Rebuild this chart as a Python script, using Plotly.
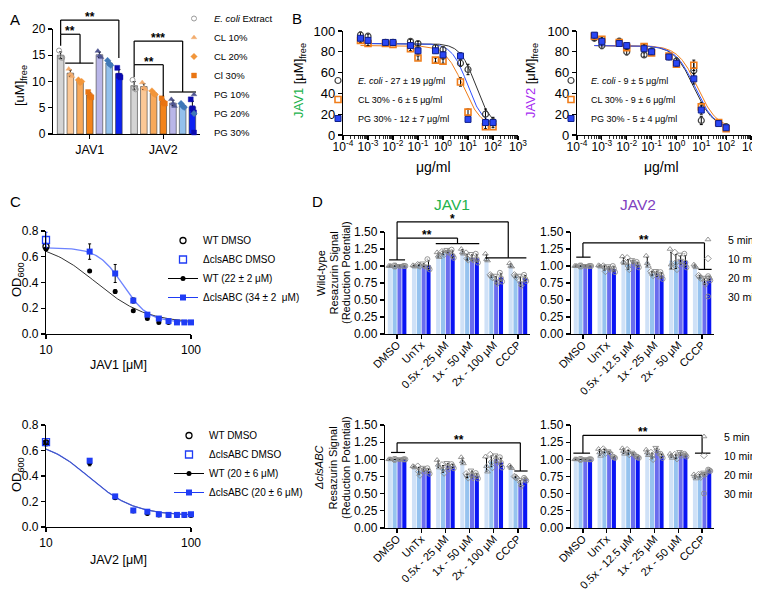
import numpy as np
import plotly.graph_objects as go

W, H = 760, 592
FONT = "Liberation Sans, Arial, Helvetica, sans-serif"

# ======================= DATA =======================
# ---- Panel A: free peptide [uM], replicate values ----
A_GROUPS = ["JAV1", "JAV2"]
A_SERIES = ["<i>E. coli</i> Extract", "CL 10%", "CL 20%", "Cl 30%", "PG 10%", "PG 20%", "PG 30%"]
A_JAV1 = [[15.9, 14.6, 14.5], [12.4, 11.4, 11.0], [10.3, 9.8, 10.0], [8.0, 7.3, 7.0],
          [15.8, 14.9, 14.6], [14.0, 13.4, 13.1], [12.6, 11.1, 10.8]]
A_JAV2 = [[10.3, 8.8, 8.5], [9.8, 8.8, 8.5], [8.2, 7.7, 7.5], [6.8, 6.0, 5.8],
          [6.6, 5.8, 5.3], [5.8, 5.3, 5.1], [6.6, 4.9, 4.1]]
A_YTICKS = [0, 5, 10, 15, 20]

# ---- Panel B: free peptide vs lipid concentration ----
B_CONC = [0.0005, 0.001, 0.005, 0.01, 0.05, 0.1, 0.5, 1, 5, 10, 50, 100]
B_TICK_EXP = [-4, -3, -2, -1, 0, 1, 2, 3]
B_YTICKS = [0, 20, 40, 60, 80, 100]
B1_NAMES = ["<i>E. coli</i> - 27 ± 19 μg/ml", "CL 30% - 6 ± 5 μg/ml", "PG 30% - 12 ± 7 μg/ml"]
B2_NAMES = ["<i>E. coli</i> - 9 ± 5 μg/ml", "CL 30% - 9 ± 6 μg/ml", "PG 30% - 5 ± 4 μg/ml"]
B1_ECOLI = [96, 95, 89, 89, 90, 88, 84, 82, 69, 63, 20, 13]
B1_ECOLI_ERR = [3, 2, 2, 2, 2, 2, 3, 3, 3, 5, 5, 4]
B1_CL30 = [91, 88, 88, 87, 83, 74, 72, 71, 51, 22, 8, 8]
B1_CL30_ERR = [2, 2, 1, 1, 2, 2, 2, 2, 4, 3, 2, 1]
B1_PG30 = [93, 91, 89, 89, 86, 81, 81, 77, 76, 15, 12, 12]
B1_PG30_ERR = [2, 2, 1, 1, 2, 3, 2, 3, 3, 2, 2, 2]
B2_ECOLI = [93, 86, 90, 80, 77, 81, 75, 71, 62, 14, 12, 8]
B2_ECOLI_ERR = [2, 3, 3, 3, 2, 2, 2, 3, 8, 4, 2, 1]
B2_CL30 = [95, 92, 89, 84, 85, 79, 76, 68, 67, 27, 12, 6]
B2_CL30_ERR = [2, 2, 2, 2, 2, 2, 2, 2, 5, 4, 2, 1]
B2_PG30 = [96, 90, 88, 86, 83, 80, 75, 69, 54, 24, 11, 7]
B2_PG30_ERR = [2, 2, 2, 2, 2, 2, 2, 2, 5, 4, 2, 1]
# fitted 4-parameter logistic curves: (top, bottom, EC50, Hill)
B1_FITS = [(88, 8, 20, 1.4), (86, 7, 6.5, 1.2), (88, 9, 9.5, 1.4)]
B2_FITS = [(86, 6, 5, 1.1), (86, 6, 7, 1.1), (86, 6, 5.5, 1.1)]

# ---- Panel C: OD600 vs peptide ----
C_CONC = [10, 20, 30, 40, 50, 60, 70, 80, 90, 100]
C_DMSO_X = [10]
C1_NAMES = ["WT DMSO", "ΔclsABC DMSO", "WT (22 ± 2 μM)", "ΔclsABC (34 ± 2  μM)"]
C2_NAMES = ["WT DMSO", "ΔclsABC DMSO", "WT (20 ± 6 μM)", "ΔclsABC (20 ± 6 μM)"]
C1_WT_DMSO = [0.68]
C1_DCLS_DMSO = [0.73]
C1_DCLS_DMSO_ERR = [0.06]
C1_WT = [0.66, 0.49, 0.33, 0.18, 0.12, 0.09, 0.09, 0.09, 0.09, 0.09]
C1_WT_ERR = [0.01, 0.005, 0.015, 0.01, 0.005, 0.005, 0.003, 0.003, 0.003, 0.003]
C1_DCLS = [0.64, 0.47, 0.26, 0.15, 0.12, 0.10, 0.09, 0.09, 0.09]
C1_DCLS_ERR = [0.06, 0.07, 0.02, 0.01, 0.01, 0.01, 0.005, 0.005, 0.005]
C2_WT_DMSO = [0.66]
C2_DCLS_DMSO = [0.665]
C2_DCLS_DMSO_ERR = [0.005]
C2_WT = [0.66, 0.50, 0.23, 0.125, 0.105, 0.095, 0.09, 0.09, 0.09, 0.09]
C2_WT_ERR = [0.005, 0.02, 0.01, 0.008, 0.01, 0.005, 0.005, 0.003, 0.003, 0.003]
C2_DCLS = [0.52, 0.24, 0.13, 0.12, 0.10, 0.095, 0.095, 0.095, 0.10]
C2_DCLS_ERR = [0.015, 0.01, 0.005, 0.01, 0.005, 0.005, 0.003, 0.003, 0.003]
C1_FITS = [(0.72, 0.085, 22, 2.5), (0.67, 0.09, 34, 5.0)]
C2_FITS = [(0.686, 0.09, 20, 2.8), (0.686, 0.09, 20, 2.8)]
C_YTICKS = [0.0, 0.2, 0.4, 0.6, 0.8]

# ---- Panel D: resazurin signal, points[time][group] = replicates ----
D_TIMES = ["5 min", "10 min", "20 min", "30 min"]
D_LABELS_JAV1 = ["DMSO", "UnTx", "0.5x - 25 μM", "1x - 50 μM", "2x - 100 μM", "CCCP"]
D_LABELS_JAV2 = ["DMSO", "UnTx", "0.5x - 12.5 μM", "1x - 25 μM", "2x - 50 μM", "CCCP"]
D_YTICKS = [0, 0.25, 0.5, 0.75, 1.0, 1.25, 1.5]
D_WT_JAV1 = [
    [[1, 1, 1], [1.01, 1.0, 0.99], [1.2, 1.15, 1.13], [1.25, 1.2, 1.18], [1.18, 1.1, 1.08], [1.04, 1.0, 0.99]],
    [[1, 1, 1], [1.02, 1.01, 1.0], [1.21, 1.19, 1.17], [1.19, 1.11, 1.09], [0.87, 0.85, 0.83], [0.87, 0.85, 0.83]],
    [[1, 1, 1], [1.04, 1.0, 0.99], [1.24, 1.21, 1.19], [1.18, 1.1, 1.08], [0.86, 0.78, 0.73], [0.86, 0.75, 0.7]],
    [[1, 1, 1], [1.1, 0.98, 0.95], [1.24, 1.15, 1.12], [1.18, 1.1, 1.05], [0.9, 0.82, 0.77], [0.87, 0.81, 0.78]],
]
D_WT_JAV2 = [
    [[1, 1, 1], [1.01, 1.0, 0.99], [1.14, 1.06, 1.04], [1.15, 1.04, 1.0], [1.25, 1.02, 0.97], [1.02, 1.0, 0.98]],
    [[1, 1, 1], [1.0, 0.98, 0.92], [1.12, 1.0, 0.95], [0.92, 0.89, 0.86], [1.2, 1.05, 0.95], [0.86, 0.84, 0.82]],
    [[1, 1, 1], [1.0, 0.97, 0.94], [1.09, 1.06, 1.03], [0.93, 0.89, 0.84], [1.17, 1.08, 1.02], [0.83, 0.77, 0.72]],
    [[1, 1, 1], [1.0, 0.96, 0.91], [1.06, 1.02, 0.98], [0.91, 0.86, 0.81], [1.18, 1.05, 0.98], [0.85, 0.82, 0.79]],
]
D_KO_JAV1 = [
    [[1, 1, 1], [0.9, 0.89, 0.88], [0.99, 0.92, 0.88], [1.03, 0.97, 0.94], [1.04, 0.9, 0.82], [0.91, 0.89, 0.87]],
    [[1, 1, 1], [0.9, 0.82, 0.77], [0.92, 0.86, 0.8], [0.79, 0.76, 0.73], [1.07, 0.96, 0.88], [0.75, 0.74, 0.73]],
    [[1, 1, 1], [0.88, 0.85, 0.82], [0.95, 0.9, 0.85], [0.84, 0.78, 0.72], [1.06, 1.0, 0.94], [0.7, 0.65, 0.6]],
    [[1, 1, 1], [0.87, 0.83, 0.79], [0.93, 0.9, 0.87], [0.8, 0.76, 0.72], [1.03, 0.95, 0.88], [0.73, 0.71, 0.69]],
]
D_KO_JAV2 = [
    [[1, 1, 1], [1.15, 1.1, 1.05], [1.16, 1.12, 1.08], [1.14, 1.1, 1.06], [1.08, 1.05, 1.02], [0.78, 0.75, 0.72]],
    [[1, 1, 1], [1.15, 1.12, 1.09], [1.14, 1.1, 1.07], [1.1, 1.05, 1.0], [1.07, 1.04, 1.01], [0.78, 0.76, 0.74]],
    [[1, 1, 1], [1.12, 1.1, 1.08], [1.1, 1.08, 1.06], [1.17, 1.13, 1.09], [1.11, 1.08, 1.05], [0.81, 0.79, 0.77]],
    [[1, 1, 1], [1.04, 1.03, 1.02], [1.04, 1.03, 1.02], [1.08, 1.05, 1.02], [1.08, 1.06, 1.04], [0.85, 0.84, 0.83]],
]

# ======================= STYLE / LAYOUT =======================
A_BAR_COLORS = ["#d4d4d4", "#fbc896", "#f8a95a", "#f38318", "#b9b6e8", "#93c0ec", "#0c22f2"]
A_PT_SYMBOLS = ["circle-open", "triangle-up", "diamond", "square", "triangle-up", "diamond", "square"]
A_PT_COLORS = ["#9a9a9a", "#f2ab6c", "#f2963a", "#e97512", "#4f5590", "#3f78b8", "#0a0ab0"]
A_SLOT, A_BW = 0.132, 0.09
A_JIT = [-0.022, 0.0, 0.022]

B_LINE_COLORS = ["#333333", "#f07d1a", "#2f50ff"]
D_BAR_COLORS = ["#cfe1f7", "#96c3ef", "#6a6cee", "#0a14f4"]
D_PT_SYMBOLS = ["triangle-up-open", "diamond-open", "triangle-down-open", "circle-open-dot"]
D_SLOT, D_BW = 0.2, 0.17
D_JIT = [-0.045, 0.0, 0.045]
GREEN, PURPLE_B, PURPLE_D = "#22b24c", "#a62cf0", "#7f3fc0"

# pixel boxes of each subplot: x (left,right), y (top,bottom)
AXES = {
    1: dict(xpx=(45, 192), ypx=(21, 126), xr=[-0.5, 1.5], yr=[0, 20], xlog=False),
    2: dict(xpx=(335, 510), ypx=(23, 127), xr=[-4, 3], yr=[0, 100], xlog=True),
    3: dict(xpx=(569, 743), ypx=(23, 127), xr=[-4, 3], yr=[0, 100], xlog=True),
    4: dict(xpx=(38, 183), ypx=(223, 326), xr=[1, 2], yr=[0, 0.8], xlog=True),
    5: dict(xpx=(38, 183), ypx=(417, 519), xr=[1, 2], yr=[0, 0.8], xlog=True),
    6: dict(xpx=(377, 522), ypx=(224, 326), xr=[-0.5, 5.5], yr=[0, 1.5], xlog=False),
    7: dict(xpx=(563, 706), ypx=(224, 326), xr=[-0.5, 5.5], yr=[0, 1.5], xlog=False),
    8: dict(xpx=(377, 522), ypx=(417, 520), xr=[-0.5, 5.5], yr=[0, 1.5], xlog=False),
    9: dict(xpx=(563, 706), ypx=(417, 520), xr=[-0.5, 5.5], yr=[0, 1.5], xlog=False),
}


def xdom(k):
    a = AXES[k]
    return [a["xpx"][0] / W, a["xpx"][1] / W]


def ydom(k):
    a = AXES[k]
    return [1 - a["ypx"][1] / H, 1 - a["ypx"][0] / H]


def to_paper(k, xv, yv):
    a = AXES[k]
    xd, yd = xdom(k), ydom(k)
    xx = np.log10(xv) if a["xlog"] else xv
    px_ = xd[0] + (xx - a["xr"][0]) / (a["xr"][1] - a["xr"][0]) * (xd[1] - xd[0])
    py_ = yd[0] + (yv - a["yr"][0]) / (a["yr"][1] - a["yr"][0]) * (yd[1] - yd[0])
    return float(px_), float(py_)


def ref(k):
    return ("x", "y") if k == 1 else (f"x{k}", f"y{k}")


def four_pl(x, top, bottom, ec50, hill):
    x = np.asarray(x, dtype=float)
    return bottom + (top - bottom) / (1.0 + (x / ec50) ** hill)


fig = go.Figure()
ERR = dict(type="data", color="black", thickness=1, width=1.5)

# ---------------- Panel A ----------------
def a_x(g, i):
    return g + (i - 3) * A_SLOT


for i in range(len(A_SERIES)):
    reps = [A_JAV1[i], A_JAV2[i]]
    fig.add_trace(go.Bar(
        x=[a_x(g, i) for g in range(2)], y=[float(np.mean(r)) for r in reps], width=A_BW,
        marker=dict(color=A_BAR_COLORS[i], line=dict(color="#3a3a3a", width=0.6)),
        error_y=dict(ERR, array=[float(np.std(r)) for r in reps]),
        xaxis="x", yaxis="y", showlegend=False, hoverinfo="skip"))
for i, name in enumerate(A_SERIES):
    xs, ys = [], []
    for g, reps in enumerate([A_JAV1[i], A_JAV2[i]]):
        for j, v in enumerate(reps):
            xs.append(a_x(g, i) + A_JIT[j])
            ys.append(v)
    line_w = 1 if "open" in A_PT_SYMBOLS[i] else 0.4
    fig.add_trace(go.Scatter(
        x=xs, y=ys, mode="markers", name=name, legend="legend", cliponaxis=False,
        marker=dict(symbol=A_PT_SYMBOLS[i], size=5, color=A_PT_COLORS[i],
                    line=dict(color=A_PT_COLORS[i], width=line_w)),
        xaxis="x", yaxis="y"))

# ---------------- Panel B ----------------
B_MARKERS = [dict(symbol="circle-open", size=6, color="#444444", line=dict(width=1.2, color="#444444")),
             dict(symbol="square-open", size=6, color="#f07d1a", line=dict(width=1.6, color="#f07d1a")),
             dict(symbol="square", size=6, color="#2a46f4", line=dict(width=1, color="#10208a"))]
for k, sets, fits, names, lg in [
        (2, [(B1_ECOLI, B1_ECOLI_ERR), (B1_CL30, B1_CL30_ERR), (B1_PG30, B1_PG30_ERR)], B1_FITS, B1_NAMES, "legend2"),
        (3, [(B2_ECOLI, B2_ECOLI_ERR), (B2_CL30, B2_CL30_ERR), (B2_PG30, B2_PG30_ERR)], B2_FITS, B2_NAMES, "legend3")]:
    xr_, yr_ = ref(k)
    xx = np.logspace(-3.3, 2.0, 200)
    for s, fit in enumerate(fits):
        fig.add_trace(go.Scatter(x=xx, y=four_pl(xx, *fit), mode="lines", showlegend=False,
                                 line=dict(color=B_LINE_COLORS[s], width=1), hoverinfo="skip",
                                 xaxis=xr_, yaxis=yr_))
    for s, (vals, errs) in enumerate(sets):
        fig.add_trace(go.Scatter(x=B_CONC, y=vals, error_y=dict(ERR, array=errs), mode="markers",
                                 marker=B_MARKERS[s], name=names[s], legend=lg, cliponaxis=False,
                                 xaxis=xr_, yaxis=yr_))

# ---------------- Panel C ----------------
C_BLUE = "#1f3cf5"
for k, wt_d, ko_d, ko_d_err, wt, wt_err, ko, ko_err, fits, names, lg in [
        (4, C1_WT_DMSO, C1_DCLS_DMSO, C1_DCLS_DMSO_ERR, C1_WT, C1_WT_ERR, C1_DCLS, C1_DCLS_ERR, C1_FITS, C1_NAMES, "legend4"),
        (5, C2_WT_DMSO, C2_DCLS_DMSO, C2_DCLS_DMSO_ERR, C2_WT, C2_WT_ERR, C2_DCLS, C2_DCLS_ERR, C2_FITS, C2_NAMES, "legend5")]:
    xr_, yr_ = ref(k)
    xx = np.linspace(10, 100, 200)
    fig.add_trace(go.Scatter(x=xx, y=four_pl(xx, *fits[0]), mode="lines", showlegend=False,
                             line=dict(color="#333333", width=1), hoverinfo="skip", xaxis=xr_, yaxis=yr_))
    fig.add_trace(go.Scatter(x=xx, y=four_pl(xx, *fits[1]), mode="lines", showlegend=False,
                             line=dict(color="rgba(60,90,255,0.75)", width=1.3), hoverinfo="skip",
                             xaxis=xr_, yaxis=yr_))
    fig.add_trace(go.Scatter(x=C_CONC, y=wt, error_y=dict(ERR, array=wt_err), mode="markers",
                             marker=dict(symbol="circle", size=5, color="black"), showlegend=False,
                             cliponaxis=False, xaxis=xr_, yaxis=yr_))
    fig.add_trace(go.Scatter(x=C_CONC[1:], y=ko, error_y=dict(ERR, array=ko_err), mode="markers",
                             marker=dict(symbol="square", size=6, color=C_BLUE), showlegend=False,
                             cliponaxis=False, xaxis=xr_, yaxis=yr_))
    fig.add_trace(go.Scatter(x=C_DMSO_X, y=wt_d, mode="markers", name=names[0], legend=lg,
                             marker=dict(symbol="circle-open", size=6, color="black", line=dict(width=1.3)),
                             cliponaxis=False, xaxis=xr_, yaxis=yr_))
    fig.add_trace(go.Scatter(x=C_DMSO_X, y=ko_d, error_y=dict(ERR, array=ko_d_err, color=C_BLUE),
                             mode="markers", name=names[1], legend=lg,
                             marker=dict(symbol="square-open", size=7, color=C_BLUE, line=dict(width=1.3)),
                             cliponaxis=False, xaxis=xr_, yaxis=yr_))
    # legend-only entries (line + marker glyphs)
    fig.add_trace(go.Scatter(x=[None], y=[None], mode="lines+markers", name=names[2], legend=lg,
                             line=dict(color="black", width=1), marker=dict(symbol="circle", size=5, color="black"),
                             xaxis=xr_, yaxis=yr_))
    fig.add_trace(go.Scatter(x=[None], y=[None], mode="lines+markers", name=names[3], legend=lg,
                             line=dict(color=C_BLUE, width=1), marker=dict(symbol="square", size=6, color=C_BLUE),
                             xaxis=xr_, yaxis=yr_))

# ---------------- Panel D ----------------
for k, pts, lg in [(6, D_WT_JAV1, None), (7, D_WT_JAV2, "legend6"),
                   (8, D_KO_JAV1, None), (9, D_KO_JAV2, "legend7")]:
    xr_, yr_ = ref(k)
    for t in range(4):
        fig.add_trace(go.Bar(
            x=[g + (t - 1.5) * D_SLOT for g in range(6)],
            y=[float(np.mean(r)) for r in pts[t]], width=D_BW,
            marker=dict(color=D_BAR_COLORS[t], line=dict(width=0)),
            error_y=dict(ERR, array=[float(np.std(r)) for r in pts[t]], width=1),
            showlegend=False, hoverinfo="skip", xaxis=xr_, yaxis=yr_))
    for t in range(4):
        xs, ys = [], []
        for g in range(6):
            for j, v in enumerate(pts[t][g]):
                xs.append(g + (t - 1.5) * D_SLOT + D_JIT[j])
                ys.append(v)
        fig.add_trace(go.Scatter(
            x=xs, y=ys, mode="markers", name=D_TIMES[t], cliponaxis=False,
            showlegend=lg is not None, legend=lg if lg else "legend6",
            marker=dict(symbol=D_PT_SYMBOLS[t], size=5, color="#8a8a8a", line=dict(width=0.9)),
            xaxis=xr_, yaxis=yr_))

# ======================= AXES =======================
BASE = dict(showline=True, linecolor="black", linewidth=1.2, ticks="outside", ticklen=4,
            tickwidth=1.2, tickcolor="black", showgrid=False, zeroline=False, fixedrange=True,
            color="black")
layout_axes = {}
for k, a in AXES.items():
    xk = "xaxis" if k == 1 else f"xaxis{k}"
    yk = "yaxis" if k == 1 else f"yaxis{k}"
    xr_, yr_ = ref(k)
    xa = dict(BASE, domain=xdom(k), anchor=yr_, range=a["xr"])
    ya = dict(BASE, domain=ydom(k), anchor=xr_, range=a["yr"])
    if k == 1:
        xa.update(tickvals=[0, 1], ticktext=A_GROUPS, tickfont=dict(size=12.5))
        ya.update(tickvals=A_YTICKS, tickfont=dict(size=12))
    elif k in (2, 3):
        minor = [m * 10.0 ** e for e in B_TICK_EXP[:-1] for m in range(2, 10)]
        xa.update(type="log", tickvals=[10.0 ** e for e in B_TICK_EXP],
                  ticktext=[f"10<sup>{e}</sup>" for e in B_TICK_EXP], tickfont=dict(size=12),
                  ticklabelstandoff=-4,
                  minor=dict(tickvals=minor, ticks="outside", ticklen=2.5, tickwidth=0.8, tickcolor="black"))
        ya.update(tickvals=B_YTICKS, tickfont=dict(size=13))
    elif k in (4, 5):
        xa.update(type="log", tickvals=[10, 100], ticktext=["10", "100"], tickfont=dict(size=12))
        ya.update(tickvals=C_YTICKS, tickformat=".1f", tickfont=dict(size=12))
    else:
        labels = D_LABELS_JAV1 if k in (6, 8) else D_LABELS_JAV2
        xa.update(tickvals=list(range(6)), ticktext=labels, tickangle=-45, tickfont=dict(size=11),
                  ticklabelstandoff=-5)
        ya.update(tickvals=D_YTICKS, tickformat=".2f", tickfont=dict(size=12))
    layout_axes[xk] = xa
    layout_axes[yk] = ya

# ======================= BRACKETS & TEXT =======================
shapes, annotations = [], []


def bracket(k, segs, color="black"):
    for (x0, y0, x1, y1) in segs:
        p0 = to_paper(k, x0, y0)
        p1 = to_paper(k, x1, y1)
        shapes.append(dict(type="line", xref="paper", yref="paper", x0=p0[0], y0=p0[1],
                           x1=p1[0], y1=p1[1], line=dict(color=color, width=1.2)))


def star(k, x, y, text, size=12):
    px_, py_ = to_paper(k, x, y)
    annotations.append(dict(text=f"<b>{text}</b>", x=px_, y=py_, xref="paper", yref="paper",
                            xanchor="center", yanchor="middle", yshift=3, showarrow=False,
                            font=dict(size=size, color="black")))


def label(text, xpx, ypx, size, angle=0, xanchor="center", yanchor="middle", color="black"):
    annotations.append(dict(text=text, x=xpx / W, y=1 - ypx / H, xref="paper", yref="paper",
                            xanchor=xanchor, yanchor=yanchor, textangle=angle, showarrow=False,
                            font=dict(size=size, color=color)))


# Panel A brackets
bracket(1, [(a_x(0, 0), 21.7, a_x(0, 6), 21.7), (a_x(0, 0), 21.7, a_x(0, 0), 19.0),
            (a_x(0, 6), 21.7, a_x(0, 6), 14.5),
            (a_x(0, 0), 19.0, a_x(0, 2), 19.0), (a_x(0, 0), 19.0, a_x(0, 0), 16.8),
            (a_x(0, 2), 19.0, a_x(0, 2), 13.5), (a_x(0, 1) - 0.07, 13.5, a_x(0, 3) + 0.05, 13.5),
            (a_x(1, 0), 17.7, a_x(1, 5), 17.7), (a_x(1, 0), 17.7, a_x(1, 0), 13.2),
            (a_x(1, 5), 17.7, a_x(1, 5), 8.0), (a_x(1, 4) - 0.05, 8.0, a_x(1, 6) + 0.05, 8.0),
            (a_x(1, 0), 13.2, a_x(1, 3), 13.2), (a_x(1, 0), 13.2, a_x(1, 0), 10.8),
            (a_x(1, 3), 13.2, a_x(1, 3), 7.2)])
star(1, (a_x(0, 0) + a_x(0, 6)) / 2, 21.7, "**")
star(1, (a_x(0, 0) + a_x(0, 2)) / 2, 19.0, "**")
star(1, (a_x(1, 0) + a_x(1, 5)) / 2, 17.7, "***")
star(1, (a_x(1, 0) + a_x(1, 3)) / 2, 13.2, "**")

# Panel D brackets
bracket(6, [(0, 1.65, 4.6, 1.65), (0, 1.65, 0, 1.41), (4.6, 1.65, 4.6, 1.12), (3.65, 1.12, 5.35, 1.12),
            (0, 1.41, 2.5, 1.41), (0, 1.41, 0, 1.09), (2.5, 1.41, 2.5, 1.33), (1.6, 1.33, 3.4, 1.33),
            (-0.33, 1.09, 0.33, 1.09)])
star(6, 2.3, 1.65, "*")
star(6, 1.25, 1.41, "**")
bracket(7, [(0, 1.34, 5.1, 1.34), (0, 1.34, 0, 1.13), (-0.28, 1.13, 0.32, 1.13),
            (5.1, 1.34, 5.1, 0.95), (4.85, 0.95, 5.4, 0.95)])
star(7, 2.55, 1.34, "**")
bracket(8, [(0, 1.24, 5.1, 1.24), (0, 1.24, 0, 1.10), (-0.25, 1.10, 0.33, 1.10),
            (5.1, 1.24, 5.1, 0.83), (4.85, 0.83, 5.4, 0.83)])
star(8, 2.55, 1.24, "**")
bracket(9, [(0, 1.35, 5.0, 1.35), (0, 1.35, 0, 1.09), (-0.4, 1.09, 0.3, 1.09),
            (5.0, 1.35, 5.0, 1.09), (4.7, 1.09, 5.35, 1.09)])
star(9, 2.5, 1.35, "**")

# Panel letters
label("A", 0, 1, 15, xanchor="left", yanchor="top")
label("B", 282, 0, 15, xanchor="left", yanchor="top")
label("C", 0, 183, 15, xanchor="left", yanchor="top")
label("D", 302, 183, 15, xanchor="left", yanchor="top")

# Axis titles
label("[uM]<sub>free</sub>", 12, 78, 13, angle=-90)
label(f'<span style="color:{GREEN}">JAV1</span> [μM]<sub>free</sub>', 291, 73, 13, angle=-90)
label(f'<span style="color:{PURPLE_B}">JAV2</span> [μM]<sub>free</sub>', 523, 73, 13, angle=-90)
label("μg/ml", 425, 159, 14)
label("μg/ml", 653, 159, 14)
label("OD<sub>600</sub>", 9, 272, 13, angle=-90)
label("JAV1 [μM]", 110, 357, 12.5)
label("OD<sub>600</sub>", 9, 467, 13, angle=-90)
label("JAV2 [μM]", 110, 552, 12.5)
label("Wild-type", 313, 265, 11, angle=-90)
label("Resazurin Signal", 325.5, 265, 11, angle=-90)
label("(Reduction Potential)", 338, 265, 11, angle=-90)
label("<i>ΔclsABC</i>", 311, 460, 11, angle=-90)
label("Resazurin Signal", 324.5, 460, 11, angle=-90)
label("(Reduction Potential)", 338, 460, 11, angle=-90)
label("JAV1", 444, 196, 15.5, color=GREEN)
label("JAV2", 630, 196, 15.5, color=PURPLE_D)


def legend_cfg(text_x, first_row_y, size):
    return dict(x=(text_x - 47) / W, y=1 - (first_row_y - 23) / H, xanchor="left", yanchor="top",
                font=dict(size=size, family=FONT, color="black"), bgcolor="rgba(0,0,0,0)",
                borderwidth=0, tracegroupgap=0, orientation="v")


fig.update_layout(
    width=W, height=H, template="none", autosize=False,
    margin=dict(l=0, r=0, t=0, b=0, pad=0, autoexpand=False),
    paper_bgcolor="white", plot_bgcolor="white",
    font=dict(family=FONT, color="black", size=12),
    barmode="overlay", showlegend=True,
    shapes=shapes, annotations=annotations,
    legend=legend_cfg(213, 19, 9.5),
    legend2=legend_cfg(357, 81, 9),
    legend3=legend_cfg(590, 81, 9),
    legend4=legend_cfg(202, 241, 10),
    legend5=legend_cfg(208, 436, 10),
    legend6=legend_cfg(727, 240, 10.5),
    legend7=legend_cfg(723, 437, 10.5),
    **layout_axes,
)

fig.write_html("out.html", config={"displayModeBar": False, "staticPlot": True})
